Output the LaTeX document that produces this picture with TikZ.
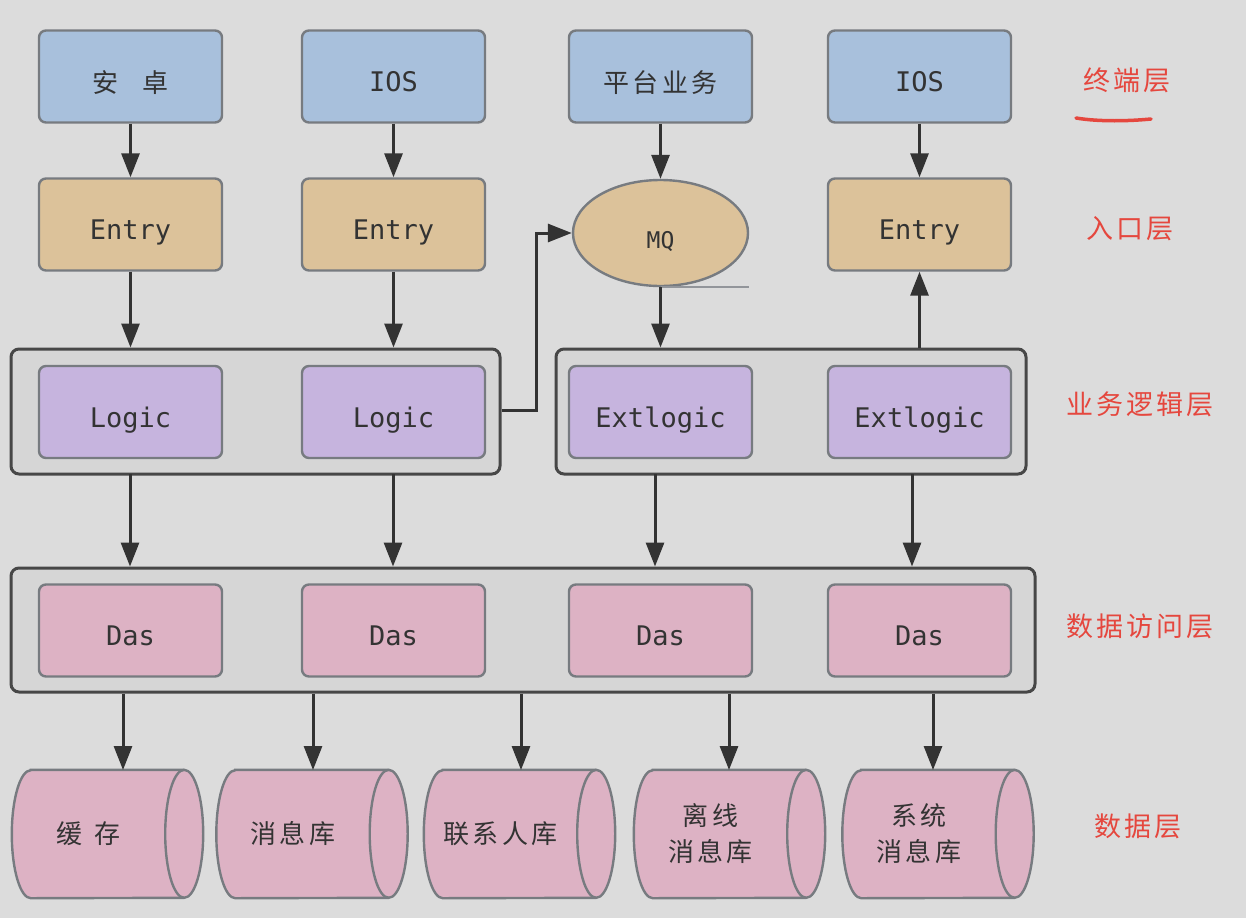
\documentclass[tikz,border=0pt]{standalone}
\usepackage{fontspec}
\setmainfont{DejaVu Sans Mono}
\newfontfamily\cjk[LetterSpace=12]{Noto Sans CJK SC}
\newfontfamily\lat{DejaVu Sans Mono}
\usetikzlibrary{shapes.geometric,arrows.meta,calc}
\definecolor{bgc}{HTML}{DCDCDC}
\definecolor{framefill}{HTML}{D6D6D6}
\definecolor{bluef}{HTML}{A8C0DC}
\definecolor{tanf}{HTML}{DCC29A}
\definecolor{purf}{HTML}{C6B4DE}
\definecolor{pinkf}{HTML}{DDB2C4}
\definecolor{bord}{HTML}{777B80}
\definecolor{txt}{HTML}{333333}
\definecolor{arrc}{HTML}{333333}
\definecolor{redl}{HTML}{E5473E}
\tikzset{
  box/.style={draw=bord,line width=2.4pt,rounded corners=7pt,minimum width=183pt,minimum height=92pt,text=txt,inner sep=0pt},
  tbox/.style={box,fill=bluef},
  ebox/.style={box,fill=tanf},
  lbox/.style={box,fill=purf},
  dbox/.style={box,fill=pinkf},
  frame/.style={draw=arrc!90,line width=3pt,rounded corners=8pt,fill=framefill,inner sep=0pt},
  arr/.style={draw=arrc,line width=3pt,-{Triangle[length=24pt,width=18pt]}},
  latf/.style={font=\lat\fontsize{27}{30}\selectfont,text height=30pt,text depth=0pt},
  cjkf/.style={font=\cjk\fontsize{26}{34}\selectfont,text height=32pt,text depth=0pt},
  lay/.style={font=\cjk\fontsize{27}{32}\selectfont,text=redl},
  cyltext/.style={minimum width=191pt,minimum height=128pt,inner sep=0pt,text=txt,align=center,font=\cjk\fontsize{26}{36}\selectfont},
  cylfill/.style={fill=pinkf,draw=bord,line width=2.4pt},
}
\newcommand\drawcyl[1]{%
  \path[cylfill] ($(#1.north west)+(19,0)$) -- ($(#1.north east)+(-19,0)$)
    arc[start angle=90,end angle=-90,x radius=19pt,y radius=64pt]
    -- ($(#1.south west)+(19,0)$)
    arc[start angle=270,end angle=90,x radius=19pt,y radius=64pt] -- cycle;
  \draw[bord,line width=2.4pt] ($(#1.north east)+(-19,0)$)
    arc[start angle=90,end angle=270,x radius=19pt,y radius=64pt];
}
\begin{document}
\begin{tikzpicture}[x=1pt,y=-1pt]
\fill[bgc] (0,0) rectangle (1246,918);
\useasboundingbox (0,0) rectangle (1246,918);

% terminal row
\node[tbox,cjkf] (t1) at (130.5,76.5) {安\hspace{0.9em}卓};
\node[tbox,latf] (t2) at (393.5,76.5) {IOS};
\node[tbox,cjkf] (t3) at (660.5,76.5) {平台业务};
\node[tbox,latf] (t4) at (919.5,76.5) {IOS};

% entry row
\node[ebox,latf] (e1) at (130.5,224.5) {Entry};
\node[ebox,latf] (e2) at (393.5,224.5) {Entry};
\node[ellipse,draw=bord,line width=2.4pt,fill=tanf,minimum width=175pt,minimum height=106pt,inner sep=0pt,text=txt,font=\lat\fontsize{23}{26}\selectfont,text height=30pt,text depth=0pt] (mq) at (660.5,233) {MQ};
\node[ebox,latf] (e4) at (919.5,224.5) {Entry};
\draw[bord!80,line width=2pt] (mq.south) -- (mq.south -| mq.east);

% logic layer
\node[frame,minimum width=489pt,minimum height=125pt] (lframe) at (255.5,411.5) {};
\node[frame,minimum width=470pt,minimum height=125pt] (xframe) at (791,411.5) {};
\node[lbox,latf] (l1) at (130.5,412) {Logic};
\node[lbox,latf] (l2) at (393.5,412) {Logic};
\node[lbox,latf] (x1) at (660.5,412) {Extlogic};
\node[lbox,latf] (x2) at (919.5,412) {Extlogic};

% das layer
\node[frame,minimum width=1024pt,minimum height=124pt] (dframe) at (523,630) {};
\node[dbox,latf] (d1) at (130.5,630.5) {Das};
\node[dbox,latf] (d2) at (393.5,630.5) {Das};
\node[dbox,latf] (d3) at (660.5,630.5) {Das};
\node[dbox,latf] (d4) at (919.5,630.5) {Das};

% data layer
\node[cyltext] (c1) at (107.5,834) {};
\node[cyltext] (c2) at (312,834) {};
\node[cyltext] (c3) at (519.5,834) {};
\node[cyltext] (c4) at (729.5,834) {};
\node[cyltext] (c5) at (938,834) {};
\drawcyl{c1}\drawcyl{c2}\drawcyl{c3}\drawcyl{c4}\drawcyl{c5}
\node[cyltext] at (c1) {\hspace{-38pt}缓\hspace{0.5em}存};
\node[cyltext] at (c2) {\hspace{-38pt}消息库};
\node[cyltext] at (c3) {\hspace{-38pt}联系人库};
\node[cyltext] at (c4) {\hspace{-38pt}离线\\\hspace{-38pt}消息库};
\node[cyltext] at (c5) {\hspace{-38pt}系统\\\hspace{-38pt}消息库};

% layer labels
\node[lay] (lab1) at (1127,80) {终端层};
\node[lay] (lab2) at (1130,229) {入口层};
\node[lay] (lab3) at (1140,404) {业务逻辑层};
\node[lay] (lab4) at (1140,626) {数据访问层};
\node[lay] (lab5) at (1138,826) {数据层};
\draw[redl,line width=3.5pt,line cap=round] (1076,118) .. controls (1100,122) and (1130,121) .. (1151,119);

% arrows
\draw[arr] (t1) -- (e1);
\draw[arr] (t2) -- (e2);
\draw[arr] (t3) -- (mq);
\draw[arr] (t4) -- (e4);
\draw[arr] (e1) -- (e1 |- lframe.north);
\draw[arr] (e2) -- (e2 |- lframe.north);
\draw[arr] (mq) -- (mq |- xframe.north);
\draw[arr] (e4 |- xframe.north) -- (e4);
\coordinate (bend) at (536,410);
\draw[arr] (lframe.east |- bend) -- (bend) |- (mq.west);

\coordinate (a1) at (130,474);
\coordinate (a2) at (393,474);
\coordinate (a3) at (655,474);
\coordinate (a4) at (912,474);
\draw[arr] (a1) -- (a1 |- dframe.north);
\draw[arr] (a2) -- (a2 |- dframe.north);
\draw[arr] (a3) -- (a3 |- dframe.north);
\draw[arr] (a4) -- (a4 |- dframe.north);

\coordinate (b1) at (123,770);
\coordinate (b2) at (313,770);
\coordinate (b3) at (521,770);
\coordinate (b4) at (729,770);
\coordinate (b5) at (933,770);
\draw[arr] (dframe.south -| b1) -- (b1);
\draw[arr] (dframe.south -| b2) -- (b2);
\draw[arr] (dframe.south -| b3) -- (b3);
\draw[arr] (dframe.south -| b4) -- (b4);
\draw[arr] (dframe.south -| b5) -- (b5);
\end{tikzpicture}
\end{document}
